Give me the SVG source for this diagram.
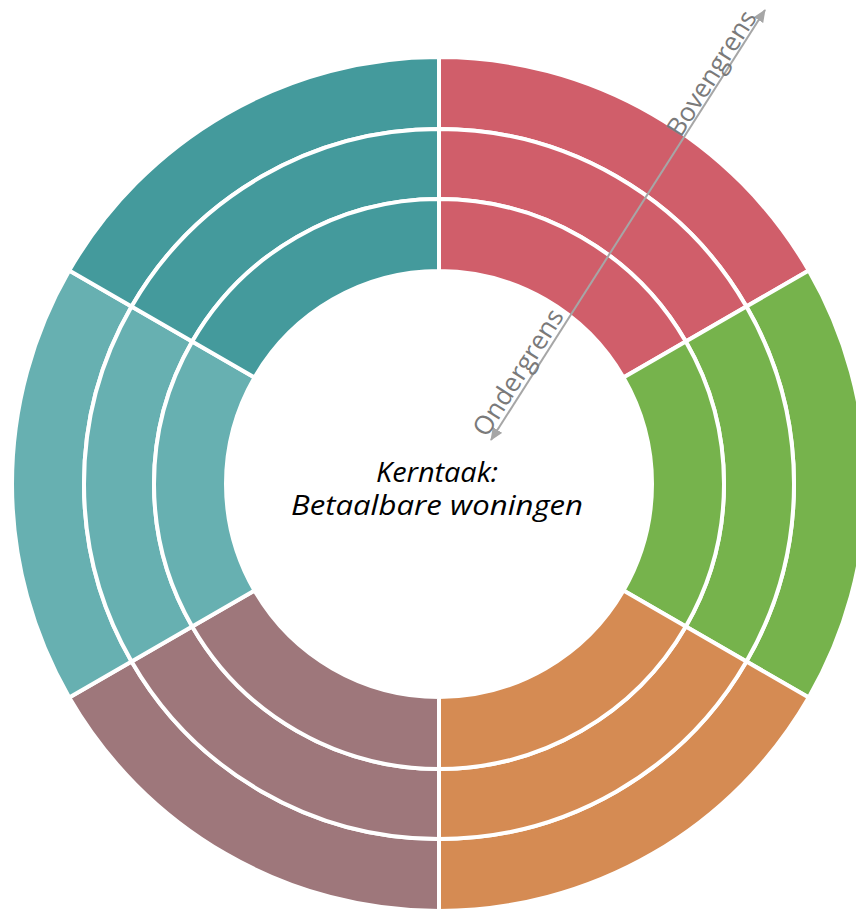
<svg xmlns="http://www.w3.org/2000/svg" width="856" height="911" viewBox="0 0 856 911">
<defs>
<style>
.seg{stroke:#FFFFFF;stroke-width:4;stroke-linejoin:miter}
.red{fill:#D05E6A}
.green{fill:#76B34C}
.orange{fill:#D58B53}
.mauve{fill:#9E777B}
.lteal{fill:#67B0B1}
.dteal{fill:#449A9C}
.axis{stroke:#A6A6A6;stroke-width:2;fill:none}
.axlbl{font-family:"Open Sans","Noto Sans","DejaVu Sans",sans-serif;font-size:26px;fill:#7A7A7A;text-anchor:middle}
.core{font-family:"Open Sans","Noto Sans","DejaVu Sans",sans-serif;font-style:italic;font-size:28px;fill:#000000;text-anchor:middle}
</style>
<marker id="ah" viewBox="0 0 13 11" markerWidth="13" markerHeight="11" refX="12" refY="5.5" orient="auto-start-reverse" markerUnits="userSpaceOnUse">
<path d="M0,0 L13,5.5 L0,11 Z" fill="#A6A6A6"/>
</marker>
</defs>
<rect width="856" height="911" fill="#FFFFFF"/>
<g id="sector-red">
<path class="seg red" d="M439,57 A427,427 0 0 1 808.78,270.5 L746.43,306.5 A355,355 0 0 0 439,129 Z"/>
<path class="seg red" d="M439,129 A355,355 0 0 1 746.43,306.5 L685.81,341.5 A285,285 0 0 0 439,199 Z"/>
<path class="seg red" d="M439,199 A285,285 0 0 1 685.81,341.5 L623.46,377.5 A213,213 0 0 0 439,271 Z"/>
</g>
<g id="sector-green">
<path class="seg green" d="M808.78,270.5 A427,427 0 0 1 808.78,697.5 L746.43,661.5 A355,355 0 0 0 746.43,306.5 Z"/>
<path class="seg green" d="M746.43,306.5 A355,355 0 0 1 746.43,661.5 L685.81,626.5 A285,285 0 0 0 685.81,341.5 Z"/>
<path class="seg green" d="M685.81,341.5 A285,285 0 0 1 685.81,626.5 L623.46,590.5 A213,213 0 0 0 623.46,377.5 Z"/>
</g>
<g id="sector-orange">
<path class="seg orange" d="M808.78,697.5 A427,427 0 0 1 439,911 L439,839 A355,355 0 0 0 746.43,661.5 Z"/>
<path class="seg orange" d="M746.43,661.5 A355,355 0 0 1 439,839 L439,769 A285,285 0 0 0 685.81,626.5 Z"/>
<path class="seg orange" d="M685.81,626.5 A285,285 0 0 1 439,769 L439,697 A213,213 0 0 0 623.46,590.5 Z"/>
</g>
<g id="sector-mauve">
<path class="seg mauve" d="M439,911 A427,427 0 0 1 69.22,697.5 L131.57,661.5 A355,355 0 0 0 439,839 Z"/>
<path class="seg mauve" d="M439,839 A355,355 0 0 1 131.57,661.5 L192.19,626.5 A285,285 0 0 0 439,769 Z"/>
<path class="seg mauve" d="M439,769 A285,285 0 0 1 192.19,626.5 L254.54,590.5 A213,213 0 0 0 439,697 Z"/>
</g>
<g id="sector-lightteal">
<path class="seg lteal" d="M69.22,697.5 A427,427 0 0 1 69.22,270.5 L131.57,306.5 A355,355 0 0 0 131.57,661.5 Z"/>
<path class="seg lteal" d="M131.57,661.5 A355,355 0 0 1 131.57,306.5 L192.19,341.5 A285,285 0 0 0 192.19,626.5 Z"/>
<path class="seg lteal" d="M192.19,626.5 A285,285 0 0 1 192.19,341.5 L254.54,377.5 A213,213 0 0 0 254.54,590.5 Z"/>
</g>
<g id="sector-darkteal">
<path class="seg dteal" d="M69.22,270.5 A427,427 0 0 1 439,57 L439,129 A355,355 0 0 0 131.57,306.5 Z"/>
<path class="seg dteal" d="M131.57,306.5 A355,355 0 0 1 439,129 L439,199 A285,285 0 0 0 192.19,341.5 Z"/>
<path class="seg dteal" d="M192.19,341.5 A285,285 0 0 1 439,199 L439,271 A213,213 0 0 0 254.54,377.5 Z"/>
</g>
<g id="center">
<text class="core" x="437" y="482" textLength="122" lengthAdjust="spacingAndGlyphs">Kerntaak:</text>
<text class="core" x="437" y="515" textLength="292" lengthAdjust="spacingAndGlyphs">Betaalbare woningen</text>
</g>
<g id="connectors">
<line class="axis" x1="491" y1="440" x2="765" y2="10" marker-start="url(#ah)" marker-end="url(#ah)"/>
<text class="axlbl" transform="translate(719,78) rotate(-57.49)">Bovengrens</text>
<text class="axlbl" transform="translate(525.8,377.2) rotate(-57.49)">Ondergrens</text>
</g>
</svg>
